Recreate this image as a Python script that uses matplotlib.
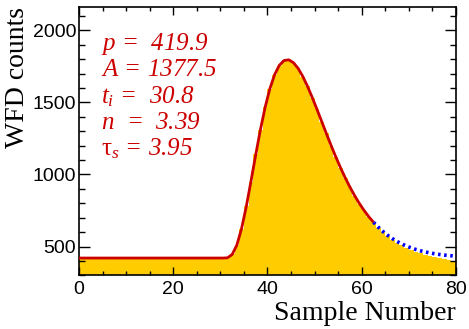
import numpy as np
import matplotlib
matplotlib.use('Agg')
import matplotlib.pyplot as plt
from matplotlib.ticker import MultipleLocator

plt.rcParams['mathtext.fontset'] = 'custom'
plt.rcParams['mathtext.rm'] = 'Liberation Serif:italic'
plt.rcParams['mathtext.it'] = 'Liberation Serif:italic'
plt.rcParams['mathtext.sf'] = 'Liberation Serif'

# histogram contents, one bin per sample (0..79)
hist_counts = [
    420, 419, 421, 420, 418, 420, 421, 419, 420, 420,
    419, 421, 420, 420, 418, 421, 420, 419, 420, 421,
    420, 419, 420, 421, 420, 418, 420, 421, 419, 420,
    420, 423, 446, 512, 622, 780, 951, 1140, 1309, 1470,
    1592, 1694, 1755, 1794, 1799, 1774, 1738, 1678, 1613, 1532,
    1454, 1366, 1285, 1199, 1123, 1045, 978, 910, 853, 797,
    751, 705, 667, 631, 600, 572, 548, 527, 508, 492,
    477, 465, 453, 443, 434, 426, 418, 411, 405, 399,
]

# fitted pulse shape read at the bin centres
fit_counts = [
    419.9, 419.9, 419.9, 419.9, 419.9, 419.9, 419.9, 419.9, 419.9, 419.9,
    419.9, 419.9, 419.9, 419.9, 419.9, 419.9, 419.9, 419.9, 419.9, 419.9,
    419.9, 419.9, 419.9, 419.9, 419.9, 419.9, 419.9, 419.9, 419.9, 419.9,
    419.9, 421.4, 444.2, 510.5, 624.5, 777.4, 953.7, 1136.6, 1311.4, 1466.9,
    1595.3, 1692.4, 1757.6, 1791.2, 1796.3, 1776.6, 1736.8, 1680.2, 1611.6, 1534.4,
    1452.3, 1367.8, 1283.4, 1201.1, 1121.7, 1046.7, 976.6, 911.8, 852.4, 798.6,
    750.1, 706.7, 668.1, 634.0, 604.0, 577.6, 554.8, 534.9, 517.7, 502.8,
    490.1, 479.2, 469.9, 462.0, 455.2, 449.5, 444.7, 440.6, 437.2, 434.3,
]
fit_end = 62   # last bin centre of the fit range

fit_labels = [r'$p$ =  419.9', r'$A$ = 1377.5', r'$t_i$ =  30.8',
              r'$n$  =  3.39', r'$\mathsf{\tau}_s$ = 3.95']

fill_col = '#ffcc00'
red = '#cc0000'

fig = plt.figure(figsize=(4.69, 3.29), dpi=100)
ax = fig.add_axes([0.1684, 0.1632, 0.8039, 0.8164])

edges = np.arange(len(hist_counts) + 1)
ax.stairs(hist_counts, edges, fill=True, color=fill_col, baseline=0)

centres = np.arange(len(fit_counts)) + 0.5
ax.plot(centres[fit_end:], fit_counts[fit_end:], color='#0000ff',
        lw=2.6, ls=(0, (0.7, 1.0)), zorder=3)
ax.plot(np.r_[0, centres[:fit_end + 1]], [fit_counts[0]] + fit_counts[:fit_end + 1],
        color=red, lw=2.0, zorder=4, solid_capstyle='butt')

ax.set_xlim(0, 80)
ax.set_ylim(300, 2165)

ax.xaxis.set_major_locator(MultipleLocator(20))
ax.xaxis.set_minor_locator(MultipleLocator(5))
ax.yaxis.set_major_locator(MultipleLocator(500))
ax.yaxis.set_minor_locator(MultipleLocator(100))
ax.tick_params(axis='both', which='both', direction='in', top=True, right=True,
               width=1.0, labelsize=14, labelfontfamily='Liberation Sans')
ax.tick_params(axis='x', which='major', length=6, pad=4)
ax.tick_params(axis='x', which='minor', length=3)
ax.tick_params(axis='y', which='major', length=8, pad=2)
ax.tick_params(axis='y', which='minor', length=4)
for s in ax.spines.values():
    s.set_linewidth(1.2)
ax.set_axisbelow(False)

ax.set_xlabel('Sample Number', fontsize=20, family='Liberation Serif',
              loc='right', labelpad=2)
ax.set_ylabel('WFD counts', fontsize=20, family='Liberation Serif',
              loc='top', labelpad=2)

ypos = [0.839, 0.742, 0.641, 0.545, 0.448]
for lab, yy in zip(fit_labels, ypos):
    ax.text(0.058, yy, lab, transform=ax.transAxes, color=red, fontsize=18,
            family='Liberation Serif', style='italic', va='baseline', ha='left')

fig.savefig('out.png', dpi=100)
